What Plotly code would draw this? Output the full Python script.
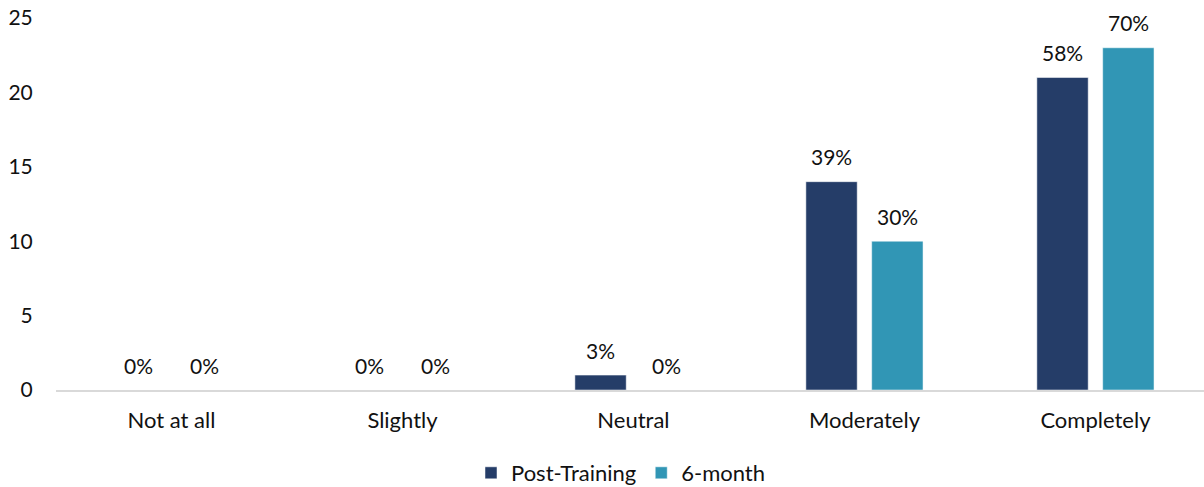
import plotly.graph_objects as go

categories = ["Not at all", "Slightly", "Neutral", "Moderately", "Completely"]
post_training = [0, 0, 1, 14, 21]
six_month = [0, 0, 0, 10, 23]
post_labels = ["0%", "0%", "3%", "39%", "58%"]
six_labels = ["0%", "0%", "0%", "30%", "70%"]
y_ticks = [0, 5, 10, 15, 20, 25]

FONT = "Lato"
TXT = "#111111"
W, H = 1204, 487
ML, MR, MT, MB = 56, 0, 18, 97
X_RANGE = [-0.5, 4.47]
BARGAP, BARGROUPGAP = 0.43, 0.22

fig = go.Figure()
series = [("Post-Training", post_training, post_labels, "#253D68"),
          ("6-month", six_month, six_labels, "#3196B5")]
for name, vals, _, col in series:
    fig.add_trace(go.Bar(
        x=categories, y=vals, name=name,
        marker=dict(color=col, line=dict(color="#FFFFFF", width=0.5)),
    ))

# data labels: place above each bar's centre
px_per_cat = (W - ML - MR) / (X_RANGE[1] - X_RANGE[0])
slot = px_per_cat * (1 - BARGAP) / len(series)
annotations = []
for i, (name, vals, labels, col) in enumerate(series):
    shift = (i - (len(series) - 1) / 2) * slot
    for c, v, lab in zip(categories, vals, labels):
        annotations.append(dict(
            x=c, y=v, xref="x", yref="y", text=lab, showarrow=False,
            xshift=shift, yshift=25, yanchor="middle",
            font=dict(family=FONT, size=21, color=TXT),
        ))

fig.update_layout(
    width=W, height=H,
    margin=dict(l=ML, r=MR, t=MT, b=MB),
    paper_bgcolor="white", plot_bgcolor="white",
    font=dict(family=FONT, size=21, color=TXT),
    barmode="group", bargap=BARGAP, bargroupgap=BARGROUPGAP,
    annotations=annotations,
    showlegend=True,
    legend=dict(orientation="h", x=(621 - ML) / (W - ML - MR), xanchor="center",
                yref="container", y=(H - 473) / H, yanchor="middle",
                font=dict(family=FONT, size=22, color=TXT),
                itemwidth=30, traceorder="normal"),
    xaxis=dict(showline=True, linecolor="#D9D9D9", linewidth=1.5,
               showgrid=False, ticks="", range=X_RANGE, automargin=False,
               ticklabelstandoff=10,
               tickfont=dict(family=FONT, size=22, color=TXT)),
    yaxis=dict(range=[0, 25], tickvals=y_ticks, showgrid=False, zeroline=False,
               showline=False, ticks="outside", ticklen=18, tickcolor="white",
               automargin=False,
               tickfont=dict(family=FONT, size=21, color=TXT)),
)

fig.write_html("out.html", config={"displayModeBar": False},
               post_script="document.body.style.margin='0';")
